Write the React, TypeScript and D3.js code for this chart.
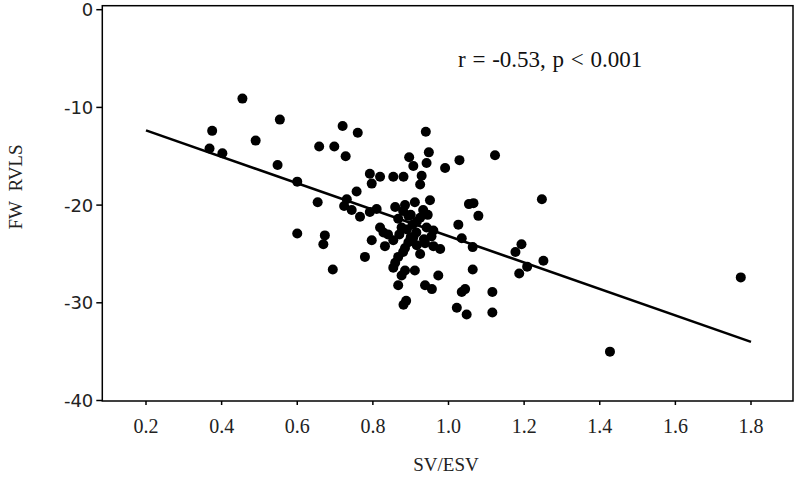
import React from "react";
import * as d3 from "d3";

const svVals = [
  0.455, 0.554, 0.375, 0.720, 0.490, 0.368, 0.402, 0.658, 0.698, 0.728,
  0.548, 0.600, 0.654, 0.600, 0.673, 0.669, 0.694,
  0.760, 0.940, 0.948, 0.896, 0.942, 0.907, 0.991, 1.029, 1.123,
  0.792, 0.819, 0.797, 0.854, 0.881, 0.929, 0.925, 0.757, 0.731, 0.724,
  0.744, 0.766, 0.792, 0.810, 0.859, 0.885, 0.911, 0.951, 0.933, 0.867,
  0.894, 0.876, 0.916, 0.942, 0.960, 0.819, 0.828, 0.907, 0.894, 0.797,
  0.832, 0.854, 0.885, 0.916, 0.938, 0.960, 0.978, 0.779, 0.867, 0.859,
  0.925, 0.854, 0.885, 0.911, 0.876, 0.973, 0.867, 0.938, 0.956, 0.881,
  0.888, 1.022, 1.048, 1.116, 1.044, 1.035, 1.116, 1.064, 1.066, 1.054,
  1.079, 1.026, 1.035, 1.064, 1.247, 1.177, 1.193, 1.251, 1.208, 1.187,
  1.427, 1.773,
  0.880, 0.900, 0.905, 0.915, 0.925, 0.890, 0.870, 0.935, 0.900, 0.945,
  0.955, 0.880, 0.840,
];
const rvlsVals = [
  -9.1, -11.25, -12.4, -11.9, -13.4, -14.2, -14.7, -14.0, -14.0, -15.0,
  -15.9, -17.6, -19.7, -22.9, -23.1, -24.0, -26.6,
  -12.6, -12.5, -14.6, -15.1, -15.7, -16.0, -16.2, -15.4, -14.9,
  -16.8, -17.1, -17.8, -17.1, -17.1, -17.0, -17.9, -18.6, -19.4, -20.1,
  -20.5, -21.2, -20.7, -20.4, -20.2, -20.0, -19.7, -19.5, -20.5, -21.4,
  -21.1, -22.3, -21.7, -22.3, -22.6, -22.3, -22.8, -23.3, -23.8, -23.6,
  -24.2, -23.6, -24.4, -24.1, -23.9, -24.2, -24.5, -25.3, -25.3, -25.9,
  -25.0, -26.4, -26.7, -26.7, -27.2, -27.2, -28.2, -28.2, -28.6, -30.2,
  -29.8, -30.5, -31.2, -31.0, -28.6, -28.9, -28.9, -26.6, -19.8, -19.9,
  -21.1, -22.0, -23.4, -24.3, -19.4, -24.8, -24.0, -25.7, -26.3, -27.0,
  -35.0, -27.4,
  -20.6, -21.0, -22.0, -22.8, -21.3, -22.5, -23.0, -23.5, -23.3, -21.0,
  -23.2, -24.8, -23.0,
];
const fitX = [0.2, 1.8];
const fitY = [-12.35, -34.0];
const xTicks = [0.2, 0.4, 0.6, 0.8, 1.0, 1.2, 1.4, 1.6, 1.8];
const yTicks = [0, -10, -20, -30, -40];
const annotation = "r = -0.53, p < 0.001";
const xTitle = "SV/ESV";
const yTitle = "FW\u00a0\u00a0RVLS";

export default function App() {
  const W = 800, H = 480;
  const left = 102.3, right = 793, top = 5.7, bottom = 401;
  const x = d3.scaleLinear().domain([0.2, 1.8]).range([146, 751]);
  const y = d3.scaleLinear().domain([-40, 0]).range([400.5, 9.7]);
  const pts = svVals.map((v, i) => ({ x: v, y: rvlsVals[i] }));
  const line = d3.line<[number, number]>().x(d => x(d[0])).y(d => y(d[1]));
  const fit: [number, number][] = fitX.map((v, i) => [v, fitY[i]]);
  return (
    <svg width={W} height={H} style={{ position: "absolute", left: 0, top: 0, background: "#fff" }}>
      <rect x={0} y={0} width={W} height={H} fill="#fff" />
      <rect x={left} y={top} width={right - left} height={bottom - top} fill="none" stroke="#000" strokeWidth={1.5} />
      {yTicks.map(t => (
        <g key={"y" + t}>
          <line x1={left - 6} x2={left} y1={y(t)} y2={y(t)} stroke="#000" strokeWidth={1.5} />
          <text x={left - 9} y={y(t)} dy="0.36em" textAnchor="end" fontFamily="DejaVu Sans" fontSize={18} fill="#222">{t}</text>
        </g>
      ))}
      {xTicks.map(t => (
        <g key={"x" + t}>
          <line x1={x(t)} x2={x(t)} y1={bottom} y2={bottom + 4} stroke="#000" strokeWidth={1.5} />
          <text x={x(t)} y={433} textAnchor="middle" fontFamily="Liberation Serif" fontSize={20} fill="#222">{t.toFixed(1)}</text>
        </g>
      ))}
      <text x={446} y={471} textAnchor="middle" fontFamily="Liberation Serif" fontSize={19} fill="#222">{xTitle}</text>
      <text transform="translate(22,187) rotate(-90)" textAnchor="middle" fontFamily="Liberation Serif" fontSize={19} fill="#222">{yTitle}</text>
      <text x={458} y={67} fontFamily="Liberation Serif" fontSize={23} wordSpacing={1} fill="#111">{annotation}</text>
      <path d={line(fit) || ""} fill="none" stroke="#000" strokeWidth={2.6} />
      {pts.map((p, i) => (
        <circle key={i} cx={x(p.x)} cy={y(p.y)} r={5} fill="#000" />
      ))}
    </svg>
  );
}
